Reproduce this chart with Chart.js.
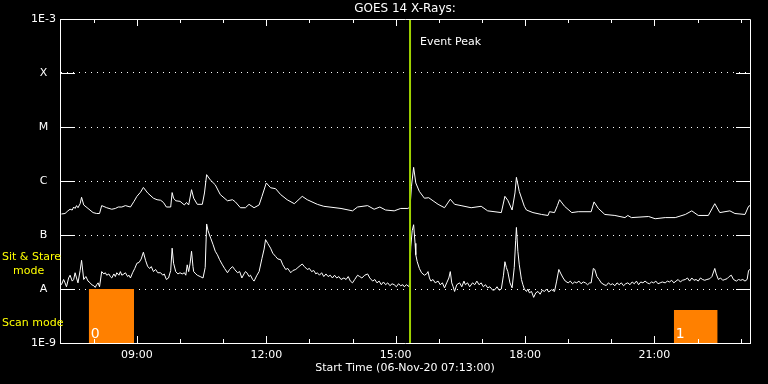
<!DOCTYPE html>
<html>
<head>
<meta charset="utf-8">
<script src="https://cdn.jsdelivr.net/npm/chart.js@4"></script>
<style>
html, body { margin: 0; padding: 0; background: #000; }
</style>
</head>
<body>
<canvas id="GoesChart" width="768" height="384"></canvas>
<script>
// GOES 14 X-ray flux, 06-Nov-20 (W/m^2)
var startTime = '07:13';
var endTime = '23:13';
var peakTime = '15:20';

// flare classes at each decade
var classValues = [1e-9, 1e-8, 1e-7, 1e-6, 1e-5, 1e-4, 1e-3];
var classLabels = ['1E-9', 'A', 'B', 'C', 'M', 'X', '1E-3'];

// hour ticks, labelled every 3 hours
var hourTicks = [8, 9, 10, 11, 12, 13, 14, 15, 16, 17, 18, 19, 20, 21, 22, 23];

// long channel (1-8 A)
var longTimes = ['07:15','07:20','07:24','07:27','07:30','07:32','07:34','07:36','07:38','07:41',
    '07:43','07:46','07:52','07:59','08:04','08:08','08:11','08:18','08:25','08:30',
    '08:34','08:39','08:44','08:51','08:56','09:00','09:05','09:09','09:15','09:23',
    '09:28','09:33','09:37','09:41','09:47','09:49','09:51','09:54','10:00','10:06',
    '10:09','10:12','10:16','10:19','10:24','10:31','10:34','10:37','10:42','10:49',
    '10:56','11:06','11:13','11:17','11:24','11:31','11:36','11:43','11:50','11:54',
    '12:00','12:06','12:13','12:20','12:29','12:39','12:50','12:57','13:11','13:20',
    '13:44','14:00','14:07','14:21','14:30','14:38','14:46','14:58','15:07','15:17',
    '15:20','15:22','15:25','15:28','15:33','15:40','15:46','15:52','15:59','16:08',
    '16:16','16:22','16:31','16:45','16:59','17:08','17:27','17:32','17:36','17:42',
    '17:46','17:48','17:52','17:59','18:02','18:11','18:23','18:32','18:34','18:41',
    '18:45','18:48','18:55','19:05','19:14','19:32','19:36','19:42','19:51','20:05',
    '20:19','20:23','20:28','20:52','21:01','21:15','21:29','21:43','21:52','22:01',
    '22:15','22:24','22:31','22:45','22:52','23:06','23:11','23:13'];
var longFlux = [2.45e-7,2.5e-7,2.8e-7,3.0e-7,2.9e-7,3.3e-7,3.1e-7,3.5e-7,3.2e-7,3.8e-7,
    5.0e-7,3.6e-7,3.1e-7,2.6e-7,2.5e-7,2.5e-7,3.5e-7,3.2e-7,3.0e-7,3.1e-7,
    3.3e-7,3.3e-7,3.5e-7,3.3e-7,4.2e-7,5.2e-7,6.2e-7,7.6e-7,6.0e-7,4.8e-7,
    4.5e-7,4.4e-7,4.0e-7,3.3e-7,3.3e-7,6.1e-7,4.8e-7,4.3e-7,4.2e-7,3.6e-7,
    4.0e-7,3.6e-7,6.9e-7,4.8e-7,3.7e-7,3.7e-7,6.0e-7,1.31e-6,1.05e-6,8.5e-7,
    5.6e-7,4.3e-7,4.5e-7,4.1e-7,3.2e-7,3.2e-7,3.7e-7,3.2e-7,3.6e-7,5.2e-7,
    9.2e-7,7.5e-7,7.2e-7,5.6e-7,4.5e-7,3.8e-7,5.2e-7,4.5e-7,3.7e-7,3.4e-7,
    3.1e-7,2.8e-7,3.3e-7,3.5e-7,3.0e-7,3.3e-7,2.9e-7,2.8e-7,3.1e-7,3.1e-7,
    3.3e-7,8.0e-7,1.79e-6,9.2e-7,6.4e-7,4.8e-7,4.9e-7,4.3e-7,3.7e-7,3.2e-7,
    4.6e-7,3.7e-7,3.5e-7,3.2e-7,3.4e-7,2.8e-7,2.6e-7,5.2e-7,4.4e-7,2.9e-7,
    6.0e-7,1.17e-6,6.4e-7,3.4e-7,2.9e-7,2.6e-7,2.4e-7,2.3e-7,2.7e-7,2.6e-7,
    3.5e-7,4.5e-7,3.4e-7,2.6e-7,2.7e-7,2.7e-7,4.1e-7,3.1e-7,2.4e-7,2.3e-7,
    2.1e-7,2.3e-7,2.1e-7,2.2e-7,2.0e-7,2.1e-7,2.1e-7,2.4e-7,2.8e-7,2.3e-7,
    2.3e-7,3.8e-7,2.6e-7,2.8e-7,2.5e-7,2.4e-7,3.4e-7,3.5e-7];

// short channel (0.5-4 A)
var shortTimes = ['07:15','07:18','07:20','07:22','07:25','07:27','07:30','07:32','07:34','07:36',
    '07:38','07:41','07:43','07:46','07:49','07:52','07:55','07:57','08:00','08:02',
    '08:04','08:06','08:08','08:11','08:14','08:16','08:18','08:21','08:23','08:25',
    '08:28','08:30','08:32','08:35','08:37','08:39','08:42','08:44','08:47','08:49',
    '08:51','08:54','08:57','09:00','09:03','09:06','09:09','09:12','09:15','09:18',
    '09:20','09:23','09:26','09:29','09:33','09:36','09:38','09:41','09:44','09:47',
    '09:49','09:51','09:54','09:57','10:00','10:03','10:06','10:08','10:10','10:12',
    '10:14','10:16','10:18','10:19','10:22','10:24','10:28','10:32','10:35','10:37',
    '10:39','10:41','10:43','10:46','10:49','10:52','10:55','10:59','11:02','11:06',
    '11:09','11:13','11:16','11:20','11:23','11:26','11:29','11:31','11:33','11:36',
    '11:38','11:41','11:43','11:47','11:50','11:54','11:57','11:59','12:02','12:06',
    '12:09','12:13','12:16','12:20','12:23','12:27','12:30','12:34','12:37','12:41',
    '12:44','12:47','12:50','12:53','12:57','13:00','13:03','13:06','13:09','13:11',
    '13:14','13:17','13:20','13:23','13:26','13:29','13:32','13:35','13:38','13:41',
    '13:44','13:48','13:51','13:54','13:57','14:00','14:03','14:07','14:10','14:13',
    '14:17','14:21','14:24','14:28','14:31','14:34','14:37','14:40','14:43','14:46',
    '14:49','14:52','14:55','14:58','15:01','15:04','15:07','15:10','15:12','15:15',
    '15:19','15:21','15:23','15:25','15:27','15:28','15:30','15:33','15:36','15:40',
    '15:43','15:45','15:47','15:49','15:52','15:55','15:59','16:02','16:05','16:08',
    '16:11','16:14','16:16','16:18','16:20','16:22','16:25','16:29','16:32','16:35',
    '16:37','16:40','16:43','16:47','16:50','16:53','16:56','16:59','17:02','17:05',
    '17:08','17:11','17:15','17:18','17:21','17:24','17:27','17:30','17:32','17:34',
    '17:36','17:39','17:42','17:45','17:47','17:48','17:50','17:52','17:55','17:57',
    '17:59','18:02','18:04','18:06','18:09','18:12','18:15','18:18','18:21','18:24',
    '18:27','18:30','18:33','18:37','18:41','18:44','18:47','18:50','18:53','18:56',
    '19:00','19:03','19:06','19:09','19:12','19:15','19:18','19:21','19:24','19:27',
    '19:30','19:32','19:35','19:37','19:40','19:43','19:46','19:50','19:53','19:56',
    '19:59','20:02','20:05','20:08','20:11','20:14','20:17','20:20','20:23','20:26',
    '20:29','20:32','20:35','20:38','20:41','20:44','20:47','20:50','20:53','20:56',
    '20:59','21:02','21:05','21:08','21:11','21:15','21:18','21:21','21:24','21:27',
    '21:30','21:33','21:36','21:39','21:43','21:46','21:49','21:52','21:55','21:58',
    '22:01','22:04','22:07','22:10','22:13','22:17','22:20','22:24','22:26','22:29',
    '22:32','22:35','22:38','22:41','22:44','22:47','22:50','22:54','22:57','23:00',
    '23:03','23:06','23:09','23:11','23:13'];
var shortFlux = [1.2e-8,1.5e-8,1.3e-8,1.1e-8,1.6e-8,1.8e-8,1.4e-8,1.5e-8,2.0e-8,1.6e-8,
    1.3e-8,2.2e-8,3.4e-8,1.5e-8,1.7e-8,1.4e-8,1.3e-8,1.2e-8,1.15e-8,1.07e-8,
    1.2e-8,1.3e-8,1.1e-8,2.1e-8,1.9e-8,2.0e-8,1.8e-8,1.9e-8,1.7e-8,1.6e-8,
    1.9e-8,1.7e-8,2.0e-8,1.8e-8,2.1e-8,1.8e-8,1.9e-8,2.0e-8,1.7e-8,1.8e-8,
    1.6e-8,2.0e-8,2.4e-8,3.0e-8,3.1e-8,3.6e-8,4.8e-8,3.4e-8,2.6e-8,2.4e-8,
    2.6e-8,2.1e-8,2.3e-8,2.0e-8,2.0e-8,1.8e-8,1.9e-8,1.5e-8,1.6e-8,2.2e-8,
    5.7e-8,3.0e-8,2.1e-8,1.9e-8,2.0e-8,1.9e-8,2.0e-8,1.8e-8,2.8e-8,2.1e-8,
    3.0e-8,5.0e-8,2.6e-8,2.1e-8,1.9e-8,1.8e-8,1.7e-8,1.6e-8,2.5e-8,1.6e-7,
    1.2e-7,1.0e-7,8.5e-8,6.6e-8,5.0e-8,4.3e-8,3.5e-8,2.8e-8,2.4e-8,2.0e-8,
    2.3e-8,2.6e-8,2.3e-8,2.0e-8,2.1e-8,1.6e-8,1.9e-8,2.1e-8,2.0e-8,1.7e-8,
    1.8e-8,1.5e-8,1.4e-8,1.8e-8,2.1e-8,3.7e-8,5.5e-8,8.2e-8,7.0e-8,5.7e-8,
    4.6e-8,4.0e-8,3.6e-8,3.5e-8,2.8e-8,2.3e-8,2.4e-8,2.0e-8,2.2e-8,2.3e-8,
    2.5e-8,2.7e-8,2.9e-8,2.6e-8,2.3e-8,2.4e-8,2.1e-8,2.2e-8,1.9e-8,2.0e-8,
    1.8e-8,2.0e-8,1.7e-8,1.9e-8,1.7e-8,1.8e-8,1.6e-8,1.8e-8,1.6e-8,1.7e-8,
    1.5e-8,1.6e-8,1.5e-8,1.7e-8,1.4e-8,1.3e-8,1.5e-8,1.8e-8,1.7e-8,1.6e-8,
    1.8e-8,1.9e-8,1.6e-8,1.4e-8,1.5e-8,1.3e-8,1.4e-8,1.2e-8,1.35e-8,1.2e-8,
    1.3e-8,1.15e-8,1.25e-8,1.2e-8,1.1e-8,1.25e-8,1.15e-8,1.2e-8,1.1e-8,1.2e-8,
    1.1e-8,6.0e-8,1.2e-7,1.55e-7,7.0e-8,4.3e-8,3.2e-8,2.4e-8,2.0e-8,1.8e-8,
    1.9e-8,2.1e-8,1.6e-8,1.4e-8,1.5e-8,1.3e-8,1.4e-8,1.2e-8,1.3e-8,1.05e-8,
    1.3e-8,1.6e-8,2.1e-8,1.3e-8,1.1e-8,0.9e-8,1.2e-8,1.3e-8,1.1e-8,1.4e-8,
    1.2e-8,1.3e-8,1.1e-8,1.3e-8,1.2e-8,1.4e-8,1.2e-8,1.3e-8,1.1e-8,1.2e-8,
    1.05e-8,1.1e-8,0.95e-8,0.97e-8,1.1e-8,0.95e-8,1.0e-8,1.8e-8,3.2e-8,2.5e-8,
    2.1e-8,1.3e-8,1.05e-8,2.5e-8,8.0e-8,1.38e-7,5.0e-8,2.8e-8,1.5e-8,1.2e-8,
    1.0e-8,0.9e-8,1.0e-8,0.85e-8,0.9e-8,0.7e-8,0.85e-8,0.9e-8,0.8e-8,0.95e-8,
    0.9e-8,1.0e-8,0.88e-8,0.97e-8,0.9e-8,1.4e-8,2.3e-8,1.9e-8,1.6e-8,1.4e-8,
    1.3e-8,1.4e-8,1.25e-8,1.35e-8,1.3e-8,1.4e-8,1.25e-8,1.35e-8,1.3e-8,1.2e-8,
    1.3e-8,1.3e-8,2.4e-8,2.3e-8,1.7e-8,1.5e-8,1.3e-8,1.2e-8,1.16e-8,1.3e-8,
    1.2e-8,1.25e-8,1.15e-8,1.3e-8,1.2e-8,1.3e-8,1.15e-8,1.25e-8,1.3e-8,1.2e-8,
    1.35e-8,1.25e-8,1.4e-8,1.2e-8,1.35e-8,1.3e-8,1.4e-8,1.3e-8,1.25e-8,1.35e-8,
    1.3e-8,1.4e-8,1.25e-8,1.3e-8,1.35e-8,1.3e-8,1.4e-8,1.35e-8,1.45e-8,1.3e-8,
    1.4e-8,1.5e-8,1.35e-8,1.45e-8,1.5e-8,1.6e-8,1.4e-8,1.6e-8,1.45e-8,1.5e-8,
    1.4e-8,1.6e-8,1.5e-8,1.45e-8,1.5e-8,1.55e-8,1.7e-8,2.4e-8,1.9e-8,1.5e-8,
    1.6e-8,1.45e-8,1.5e-8,1.55e-8,1.7e-8,1.8e-8,1.5e-8,1.4e-8,1.5e-8,1.45e-8,
    1.5e-8,1.4e-8,1.5e-8,2.2e-8,2.3e-8];

// scan mode periods (orange blocks)
var scanStart = ['07:53', '21:27'];
var scanEnd = ['08:56', '22:28'];
var scanLevel = [1e-8, 4.1e-9];
var scanLabels = ['0', '1'];

function toHours(s) {
    var p = s.split(':');
    return Number(p[0]) + Number(p[1]) / 60;
}

function toPoints(times, values) {
    return times.map(function (t, i) { return { x: toHours(t), y: values[i] }; });
}

var font11 = { family: 'DejaVu Sans', size: 11, weight: 'normal' };

var datasets = [
    {
        data: [{ x: toHours(peakTime), y: 1e-9 }, { x: toHours(peakTime), y: 1e-3 }],
        borderColor: '#9fd200',
        borderWidth: 2
    },
    {
        data: toPoints(longTimes, longFlux),
        borderColor: '#ffffff',
        borderWidth: 1
    },
    {
        data: toPoints(shortTimes, shortFlux),
        borderColor: '#ffffff',
        borderWidth: 1
    }
];
scanStart.forEach(function (s, i) {
    datasets.push({
        data: [{ x: toHours(s), y: scanLevel[i] }, { x: toHours(scanEnd[i]), y: scanLevel[i] }],
        borderColor: 'rgba(0,0,0,0)',
        borderWidth: 0,
        backgroundColor: '#ff8000',
        fill: 'start'
    });
});

// frame, inward ticks and annotations
var goesDecor = {
    id: 'goesDecor',
    afterDraw: function (chart) {
        var ctx = chart.ctx;
        var a = chart.chartArea;
        var xs = chart.scales.x;
        var ys = chart.scales.y;
        ctx.save();
        ctx.strokeStyle = '#ffffff';
        ctx.lineWidth = 1;
        ctx.beginPath();
        ctx.moveTo(a.left, Math.round(a.top) + 0.5);
        ctx.lineTo(Math.round(a.right) + 0.5, Math.round(a.top) + 0.5);
        ctx.lineTo(Math.round(a.right) + 0.5, a.bottom);
        ctx.stroke();

        ctx.beginPath();
        classValues.forEach(function (v) {
            var y = Math.round(ys.getPixelForValue(v)) + 0.5;
            ctx.moveTo(a.left, y); ctx.lineTo(a.left + 15, y);
            ctx.moveTo(a.right - 14, y); ctx.lineTo(a.right, y);
        });
        hourTicks.forEach(function (h) {
            var x = Math.round(xs.getPixelForValue(h)) + 0.5;
            var len = h % 3 === 0 ? 7 : 4;
            ctx.moveTo(x, a.bottom); ctx.lineTo(x, a.bottom - len);
            ctx.moveTo(x, a.top); ctx.lineTo(x, a.top + len);
        });
        ctx.stroke();

        ctx.font = '11px "DejaVu Sans"';
        ctx.textBaseline = 'middle';
        ctx.textAlign = 'left';
        ctx.fillStyle = '#ffffff';
        ctx.fillText('Event Peak', xs.getPixelForValue(toHours(peakTime)) + 10, 42);

        ctx.fillStyle = '#ffff00';
        ctx.fillText('Sit & Stare', 2, 257);
        ctx.fillText('mode', 13, 271);
        ctx.fillText('Scan mode', 2, 323);

        ctx.fillStyle = '#ffffff';
        ctx.font = '14px "DejaVu Sans"';
        ctx.textBaseline = 'alphabetic';
        scanStart.forEach(function (s, i) {
            ctx.fillText(scanLabels[i], xs.getPixelForValue(toHours(s)) + 2, 338);
        });
        ctx.restore();
    }
};

var ctx = document.getElementById('GoesChart');

var goesChart = new Chart(ctx, {
    type: 'line',
    data: { datasets: datasets },
    options: {
        responsive: false,
        animation: false,
        devicePixelRatio: 1,
        elements: { point: { radius: 0 }, line: { tension: 0 } },
        layout: { padding: { left: 0, right: 18, top: 0, bottom: 0 } },
        plugins: {
            legend: { display: false },
            tooltip: { enabled: false },
            title: {
                display: true,
                text: 'GOES 14 X-Rays:',
                color: '#ffffff',
                font: { family: 'DejaVu Sans', size: 12, weight: 'normal' },
                padding: { top: 2, bottom: 2.6 },
                fullSize: false
            }
        },
        scales: {
            x: {
                type: 'linear',
                min: toHours(startTime),
                max: toHours(endTime),
                afterBuildTicks: function (scale) {
                    scale.ticks = hourTicks.map(function (h) { return { value: h }; });
                },
                afterFit: function (scale) { scale.height = 41; },
                ticks: {
                    color: '#ffffff',
                    font: font11,
                    padding: 6,
                    maxRotation: 0,
                    autoSkip: false,
                    callback: function (v) {
                        return v % 3 === 0 ? (v < 10 ? '0' : '') + v + ':00' : '';
                    }
                },
                grid: { display: false, drawTicks: false },
                border: { color: '#ffffff', width: 1 },
                title: {
                    display: true,
                    text: 'Start Time (06-Nov-20 07:13:00)',
                    color: '#ffffff',
                    font: font11,
                    padding: { top: 0, bottom: 9 }
                }
            },
            y: {
                type: 'logarithmic',
                min: 1e-9,
                max: 1e-3,
                afterBuildTicks: function (scale) {
                    scale.ticks = classValues.map(function (v) { return { value: v }; });
                },
                afterFit: function (scale) { scale.width = 60; },
                ticks: {
                    color: '#ffffff',
                    font: font11,
                    padding: 4,
                    crossAlign: 'center',
                    autoSkip: false,
                    callback: function (v) {
                        var e = Math.round(Math.log10(v));
                        return classLabels[e + 9];
                    }
                },
                grid: { color: '#ffffff', lineWidth: 1, drawTicks: false },
                border: { color: '#ffffff', width: 1, dash: [1, 5] }
            }
        }
    },
    plugins: [goesDecor]
});
</script>
</body>
</html>
